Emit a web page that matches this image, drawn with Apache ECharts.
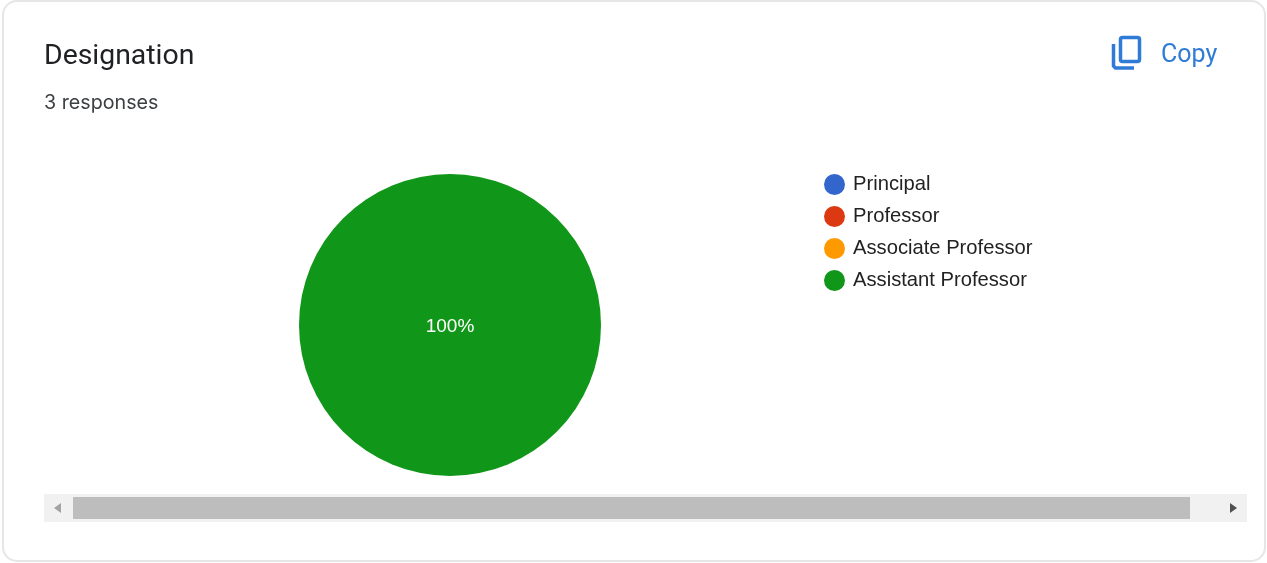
<!DOCTYPE html>
<html>
<head>
<meta charset="utf-8">
<style>html,body{margin:0;padding:0;background:#fff}#c{width:1267px;height:563px}</style>
<script src="https://cdn.jsdelivr.net/npm/echarts@6/dist/echarts.min.js"></script>
</head>
<body>
<div id="c"></div>
<script>
const categories = ["Principal", "Professor", "Associate Professor", "Assistant Professor"];
const values = [0, 0, 0, 3];
const colors = ["#3366cc", "#dc3912", "#ff9900", "#109618"];
const titleText = "Designation";
const subtitleText = "3 responses";
const copyText = "Copy";

const chart = echarts.init(document.getElementById("c"), null, {renderer: "canvas"});
chart.setOption({
  animation: false,
  backgroundColor: "#ffffff",
  color: colors,
  title: [
    {text: titleText, left: 44, top: 43, padding: 0,
     textStyle: {fontFamily: "Roboto", fontSize: 28.4, fontWeight: 400, color: "#202124"}},
    {text: subtitleText, left: 44, top: 93, padding: 0,
     textStyle: {fontFamily: "Inter", fontSize: 19.7, fontWeight: 400, color: "#3c4043"}},
    {text: copyText, left: 1161, top: 43, padding: 0,
     textStyle: {fontFamily: "Roboto", fontSize: 25, fontWeight: 400, color: "#2f7bd6"}}
  ],
  legend: {
    orient: "vertical", left: 824, top: 174, padding: 0,
    itemWidth: 21, itemHeight: 21, itemGap: 11, icon: "circle",
    selectedMode: false,
    data: categories,
    textStyle: {fontFamily: "Liberation Sans", fontSize: 20.2, color: "#222222", padding: [1, 0, 0, 3]}
  },
  series: [{
    type: "pie",
    center: [450, 325],
    radius: [0, 151],
    startAngle: 90,
    silent: true,
    itemStyle: {borderWidth: 0},
    label: {
      show: true, position: "center", offset: [0, 2],
      fontFamily: "Liberation Sans", fontSize: 19, color: "#ffffff",
      formatter: p => p.value > 0 ? Math.round(p.percent) + "%" : ""
    },
    labelLine: {show: false},
    data: categories.map((name, i) => ({name, value: values[i]}))
  }],
  graphic: [
    {type: "rect", z: -1, shape: {x: 3, y: 1, width: 1262, height: 560, r: 14},
     style: {fill: "#ffffff", stroke: "#e6e6e6", lineWidth: 2}},
    {type: "rect", shape: {x: 44, y: 494, width: 1203, height: 28}, style: {fill: "#f1f1f1"}},
    {type: "rect", shape: {x: 73, y: 497, width: 1117, height: 22}, style: {fill: "#bdbdbd"}},
    {type: "polygon", shape: {points: [[61, 503], [54, 508], [61, 513]]}, style: {fill: "#a3a3a3"}},
    {type: "polygon", shape: {points: [[1230, 503], [1237, 508], [1230, 513]]}, style: {fill: "#505050"}},
    {type: "rect", shape: {x: 1120.5, y: 37.5, width: 19, height: 24, r: 2},
     style: {fill: "none", stroke: "#2f7bd6", lineWidth: 3.5}},
    {type: "polyline", shape: {points: [[1113.5, 44], [1113.5, 66], [1115.5, 68], [1134, 68]]},
     style: {fill: "none", stroke: "#2f7bd6", lineWidth: 3.5}}
  ]
});
</script>
</body>
</html>
